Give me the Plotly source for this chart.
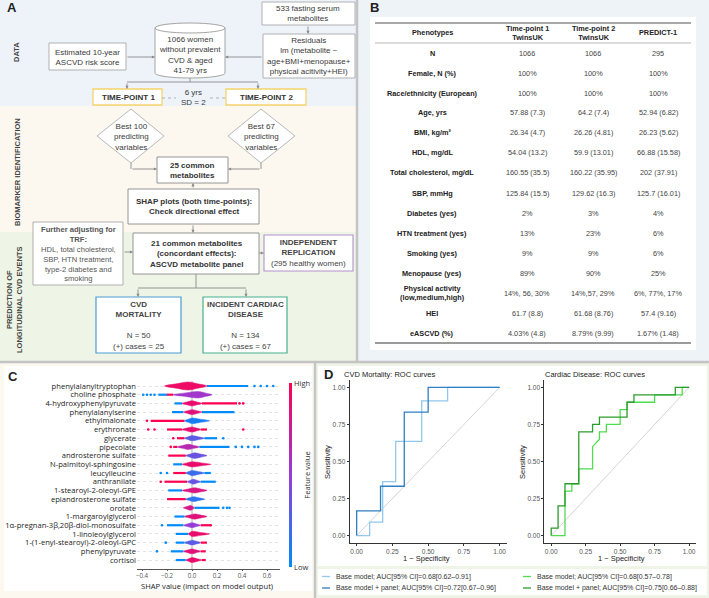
import plotly.graph_objects as go

W, H = 709, 598
FA = "Liberation Sans, Arial, sans-serif"
FS = "Open Sans, sans-serif"

# ---------------- DATA ----------------
# Panel B table
tbl_header = ["Phenotypes", "Time-point 1<br>TwinsUK", "Time-point 2<br>TwinsUK", "PREDICT-1"]
phenotypes = ["N", "Female, N (%)", "Race/ethnicity (European)", "Age, yrs", "BMI, kg/m²",
              "HDL, mg/dL", "Total cholesterol, mg/dL", "SBP, mmHg", "Diabetes (yes)",
              "HTN treatment (yes)", "Smoking (yes)", "Menopause (yes)",
              "Physical activity<br>(low,medium,high)", "HEI", "eASCVD (%)"]
tp1_vals = ["1066", "100%", "100%", "57.88 (7.3)", "26.34 (4.7)", "54.04 (13.2)", "160.55 (35.5)",
            "125.84 (15.5)", "2%", "13%", "9%", "89%", "14%, 56, 30%", "61.7 (8.8)", "4.03% (4.8)"]
tp2_vals = ["1066", "100%", "100%", "64.2 (7.4)", "26.26 (4.81)", "59.9 (13.01)", "160.22 (35.95)",
            "129.62 (16.3)", "3%", "23%", "9%", "90%", "14%,57, 29%", "61.68 (8.76)", "8.79% (9.99)"]
predict_vals = ["295", "100%", "100%", "52.94 (6.82)", "26.23 (5.62)", "66.88 (15.58)", "202 (37.91)",
                "125.7 (16.01)", "4%", "6%", "6%", "25%", "6%, 77%, 17%", "57.4 (9.16)", "1.67% (1.48)"]

# Panel C SHAP summary
features = ["phenylalanyltryptophan", "choline phosphate", "4-hydroxyphenylpyruvate", "phenylalanylserine",
            "ethylmalonate", "erythronate", "glycerate", "pipecolate", "androsterone sulfate",
            "N-palmitoyl-sphingosine", "leucylleucine", "anthranilate", "1-stearoyl-2-oleoyl-GPE",
            "epiandrosterone sulfate", "orotate", "1-margaroylglycerol",
            "1α-pregnan-3β,20β-diol-monosulfate", "1-linoleoylglycerol",
            "1-(1-enyl-stearoyl)-2-oleoyl-GPC", "phenylpyruvate", "cortisol"]
core_lo = [-0.22, -0.15, -0.08, -0.07, -0.06, -0.08, -0.06, -0.12, -0.05, -0.08, -0.05,
           -0.04, -0.08, -0.05, -0.07, -0.06, -0.07, -0.03, -0.06, -0.07, -0.05]
core_peak = [-0.03, 0.05, 0.0, 0.0, 0.0, 0.0, 0.0, -0.03, 0.02, 0.0, 0.0,
             0.01, 0.02, 0.01, -0.01, 0.02, 0.0, 0.0, 0.0, 0.0, 0.0]
core_hi = [0.12, 0.16, 0.08, 0.08, 0.14, 0.07, 0.10, 0.06, 0.12, 0.15, 0.10,
           0.07, 0.12, 0.10, 0.02, 0.12, 0.07, 0.14, 0.07, 0.07, 0.08]
core_spread = [0.46, 0.38, 0.30, 0.28, 0.32, 0.30, 0.30, 0.30, 0.32, 0.30, 0.30,
               0.28, 0.30, 0.28, 0.28, 0.30, 0.28, 0.30, 0.28, 0.28, 0.28]
core_feature_value = [0.92, 0.55, 0.9, 0.85, 0.08, 0.88, 0.3, 0.65, 0.35, 0.9, 0.2,
                      0.35, 0.82, 0.15, 0.8, 0.85, 0.5, 0.9, 0.3, 0.85, 0.9]
run_row = [0, 1, 1, 2, 2, 3, 3, 4, 5, 5, 6, 6, 7, 7, 8, 9, 10, 10, 11, 11, 12, 13, 14, 15,
           16, 16, 17, 18, 18, 19, 19, 20, 20]
run_lo = [0.12, -0.27, -0.2, -0.14, 0.08, -0.16, 0.08, -0.33, -0.2, 0.07, -0.12, 0.10, -0.15, 0.06,
          -0.19, -0.15, -0.15, 0.10, -0.22, 0.07, -0.19, -0.2, 0.02, -0.14,
          -0.2, 0.07, -0.13, -0.13, 0.07, -0.17, 0.07, -0.13, 0.08]
run_hi = [0.45, -0.2, -0.15, -0.08, 0.36, -0.07, 0.34, -0.06, -0.08, 0.12, -0.06, 0.20, -0.12, 0.30,
          -0.05, -0.08, -0.05, 0.15, -0.04, 0.19, -0.08, -0.05, 0.22, -0.06,
          -0.07, 0.15, -0.03, -0.06, 0.12, -0.07, 0.11, -0.05, 0.11]
run_fv = [0, 0, 1, 0, 1, 0, 0, 1, 1, 1, 1, 0, 1, 0, 1, 0, 1, 0, 1, 0, 0, 1, 0, 0,
          0, 1, 0, 0, 1, 0, 1, 0, 1]
dot_row = [0, 0, 0, 0, 1, 1, 1, 1, 2, 2, 4, 5, 5, 5, 6, 6, 7, 7, 7, 7, 7, 7, 10, 10, 11,
           14, 14, 14, 16, 16, 18, 19]
dot_x = [0.50, 0.55, 0.60, 0.65, -0.39, -0.36, -0.33, -0.30, 0.38, 0.41, -0.36, -0.35, -0.30, 0.41,
         -0.15, 0.25, -0.17, 0.35, 0.40, 0.45, 0.50, 0.53, -0.25, -0.20, -0.25,
         0.25, 0.28, 0.30, -0.24, 0.15, -0.21, -0.28]
dot_fv = [0, 0, 0, 0, 0, 0, 0, 0, 1, 1, 1, 1, 1, 1, 1, 0, 1, 0, 0, 0, 0, 0, 0, 0, 1,
          0, 0, 0, 0, 1, 0, 0]
shap_ticks = [-0.4, -0.2, 0.0, 0.2, 0.4, 0.6]

# Panel D ROC curves
cvd_base_fpr = [0, 0.091, 0.091, 0.182, 0.182, 0.273, 0.273, 0.455, 0.455, 0.636, 0.636, 1]
cvd_base_tpr = [0, 0, 0.091, 0.091, 0.364, 0.364, 0.636, 0.636, 0.909, 0.909, 1, 1]
cvd_panel_fpr = [0, 0, 0.167, 0.167, 0.333, 0.333, 0.5, 0.5, 1]
cvd_panel_tpr = [0, 0.167, 0.167, 0.333, 0.333, 0.833, 0.833, 1, 1]
card_base_fpr = [0, 0.1, 0.1, 0.15, 0.15, 0.2, 0.2, 0.3, 0.3, 0.35, 0.35, 0.4, 0.4, 0.5, 0.5,
                 0.55, 0.55, 0.75, 0.75, 0.95, 0.95, 1]
card_base_tpr = [0, 0, 0.3, 0.3, 0.35, 0.35, 0.45, 0.45, 0.6, 0.65, 0.7, 0.7, 0.75, 0.75, 0.85,
                 0.85, 0.9, 0.9, 0.95, 0.95, 1, 1]
card_panel_fpr = [0, 0, 0.05, 0.05, 0.1, 0.1, 0.2, 0.2, 0.3, 0.3, 0.35, 0.35, 0.55, 0.55, 0.6,
                  0.6, 0.9, 0.9, 1]
card_panel_tpr = [0, 0.05, 0.05, 0.2, 0.2, 0.35, 0.35, 0.7, 0.7, 0.75, 0.75, 0.8, 0.8, 0.9, 0.9,
                  0.95, 0.95, 1, 1]
roc_ticks = [0, 0.25, 0.5, 0.75, 1.0]
cvd_legend = ["Base model; AUC[95% CI]=0.68[0.62–0.91]", "Base model + panel; AUC[95% CI]=0.72[0.67–0.96]"]
card_legend = ["Base model; AUC[95% CI]=0.68[0.57–0.78]", "Base model + panel; AUC[95% CI]=0.75[0.66–0.88]"]

# ---------------- HELPERS ----------------
def X(p):
    return p / W


def Y(p):
    return 1 - p / H


shapes = []
ann = []


def rect(x0, y0, x1, y1, fill=None, line=None, lw=1.0, layer="above"):
    shapes.append(dict(type="rect", xref="paper", yref="paper", x0=X(x0), x1=X(x1), y0=Y(y1), y1=Y(y0),
                       layer=layer, fillcolor=fill if fill else "rgba(0,0,0,0)",
                       line=dict(color=line if line else "rgba(0,0,0,0)", width=lw if line else 0)))


def seg(x0, y0, x1, y1, color="#8a8a8a", lw=0.9, dash="solid"):
    shapes.append(dict(type="line", xref="paper", yref="paper", x0=X(x0), x1=X(x1), y0=Y(y0), y1=Y(y1),
                       line=dict(color=color, width=lw, dash=dash)))


def arrow(x0, y0, x1, y1, color="#8a8a8a"):
    ann.append(dict(x=X(x1), y=Y(y1), xref="paper", yref="paper", ax=x0 - x1, ay=y0 - y1,
                    axref="pixel", ayref="pixel", text="", showarrow=True, arrowhead=2,
                    arrowsize=0.7, arrowwidth=0.9, arrowcolor=color))


def T(x, y, text, size=8, color="#3a3a3a", xa="center", ya="middle", angle=0, family=FA):
    ann.append(dict(x=X(x), y=Y(y), xref="paper", yref="paper", text=text, showarrow=False,
                    font=dict(size=size, color=color, family=family), xanchor=xa, yanchor=ya,
                    textangle=angle, align=xa if xa in ("left", "right") else "center",
                    borderpad=0))


def path(points, fill="white", line="#9a9a9a", lw=0.9):
    d = "M " + " L ".join(f"{X(a):.5f},{Y(b):.5f}" for a, b in points) + " Z"
    shapes.append(dict(type="path", xref="paper", yref="paper", path=d, fillcolor=fill,
                       line=dict(color=line, width=lw)))


STOPS = [(0.0, (0, 139, 251)), (0.5, (150, 60, 215)), (1.0, (255, 0, 82))]


def fv_color(v):
    for (a, ca), (b, cb) in zip(STOPS[:-1], STOPS[1:]):
        if v <= b:
            t = (v - a) / (b - a)
            c = [round(ca[i] + (cb[i] - ca[i]) * t) for i in range(3)]
            return f"rgb({c[0]},{c[1]},{c[2]})"
    return "rgb(255,0,82)"

# ---------------- BACKGROUNDS ----------------
rect(0, 0, 357, 106, fill="#edf3f9", layer="below")
rect(0, 106, 357, 232, fill="#fdf8ef", layer="below")
rect(0, 232, 357, 362, fill="#eef5e6", layer="below")
rect(357, 0, 709, 362, fill="#eef3f8", layer="below")
rect(370, 17, 696, 350, fill="white", layer="below")
rect(0, 362, 315, 598, fill="#fdf8ef", layer="below")
rect(4, 366, 312, 591, fill="white", layer="below")
rect(315, 362, 709, 598, fill="#eef5e6", layer="below")
rect(318, 366, 707, 566, fill="white", layer="below")
rect(318, 569, 707, 595, fill="white", layer="below")
seg(357, 0, 357, 362, color="#c4c4c4", lw=2.5)
seg(0, 362, 709, 362, color="#c4c4c4", lw=2.5)
seg(315, 362, 315, 598, color="#c4c4c4", lw=2.5)

# ---------------- PANEL A ----------------
T(12, 8, "<b>A</b>", size=13, color="#222")
T(17, 52, "<b>DATA</b>", size=7.5, color="#444", angle=-90)
T(17, 172, "<b>BIOMARKER IDENTIFICATION</b>", size=7.5, color="#444", angle=-90)
T(14, 300, "<b>PREDICTION OF<br>LONGITUDINAL CVD EVENTS</b>", size=7.5, color="#444", angle=-90)

rect(262, 2, 355, 25, fill="white", line="#a8a8a8", lw=0.9)
T(308, 13.5, "533 fasting serum<br>metabolites")
rect(263, 34, 355, 78, fill="white", line="#a8a8a8", lw=0.9)
T(309, 56, "Residuals<br>lm (metabolite ~<br>age+BMI+menopause+<br>physical acitivity+HEI)")
rect(49, 43, 126, 70, fill="white", line="#a8a8a8", lw=0.9)
T(87.5, 57, "Estimated 10-year<br>ASCVD risk score")

# cylinder
cl, cr, ctop, cbot, ry = 155, 225, 28, 73, 5
k = 0.5523
cx, rx = (cl + cr) / 2, (cr - cl) / 2
body = (f"M {X(cl):.5f},{Y(ctop):.5f} L {X(cl):.5f},{Y(cbot):.5f} "
        f"C {X(cl):.5f},{Y(cbot + k * ry):.5f} {X(cx - k * rx):.5f},{Y(cbot + ry):.5f} {X(cx):.5f},{Y(cbot + ry):.5f} "
        f"C {X(cx + k * rx):.5f},{Y(cbot + ry):.5f} {X(cr):.5f},{Y(cbot + k * ry):.5f} {X(cr):.5f},{Y(cbot):.5f} "
        f"L {X(cr):.5f},{Y(ctop):.5f} Z")
shapes.append(dict(type="path", xref="paper", yref="paper", path=body, fillcolor="white",
                   line=dict(color="#9a9a9a", width=0.9)))
shapes.append(dict(type="circle", xref="paper", yref="paper", x0=X(cl), x1=X(cr), y0=Y(ctop + ry),
                   y1=Y(ctop - ry), fillcolor="white", line=dict(color="#9a9a9a", width=0.9)))
T(190, 55, "1066 women<br>without prevalent<br>CVD & aged<br>41-79 yrs")

arrow(308, 25, 308, 34)
arrow(126, 57, 155, 57)
arrow(263, 57, 225, 57)
seg(190, 78, 190, 82)
seg(127, 82, 258, 82)
arrow(127, 82, 127, 89)
arrow(258, 82, 258, 89)

rect(93, 89, 162, 105, fill="white", line="#f3d46a", lw=1.3)
T(128, 97.5, "<b>TIME-POINT 1</b>", color="#333")
rect(226, 89, 306, 105, fill="white", line="#f3d46a", lw=1.3)
T(266, 97.5, "<b>TIME-POINT 2</b>", color="#333")
T(193, 97, "6 yrs<br>SD = 2")
seg(162, 98, 176, 98, color="#aaaaaa", dash="dot")
seg(210, 98, 226, 98, color="#aaaaaa", dash="dot")

path([(131, 109), (164, 136), (131, 163), (97, 136)], line="#b0b0b0")
T(131, 137, "Best 100<br>predicting<br>variables")
path([(261, 109), (295, 136), (261, 163), (228, 136)], line="#b0b0b0")
T(261, 137, "Best 67<br>predicting<br>variables")
seg(131, 163, 131, 169)
arrow(131, 169, 157, 169)
seg(261, 163, 261, 169)
arrow(261, 169, 228, 169)

rect(157, 157, 228, 183, fill="white", line="#8a8a8a", lw=0.9)
T(192.5, 170, "<b>25 common<br>metabolites</b>", color="#333")
arrow(193, 189, 193, 183)
rect(128, 189, 259, 224, fill="white", line="#8a8a8a", lw=0.9)
T(193.5, 206.5, "<b>SHAP plots (both time-points):<br>Check directional effect</b>", color="#333")
arrow(193, 224, 193, 233)

rect(33, 222, 123, 285, fill="white", line="#a8a8a8", lw=0.9)
T(78, 253.5, "<b>Further adjusting for<br>TRF:</b><br>HDL, total cholesterol,<br>SBP, HTN treatment,<br>"
             "type-2 diabetes and<br>smoking", color="#555", size=7.6)
arrow(123, 252, 133, 252)

rect(133, 233, 259, 274, fill="white", line="#8a8a8a", lw=0.9)
T(196, 253.5, "<b>21 common metabolites<br>(concordant effects):<br>ASCVD metabolite panel</b>", color="#333")

seg(259, 253, 262, 253, color="#8a8a8a", dash="dot")
arrow(261, 253, 264, 253)
rect(264, 235, 353, 271, fill="white", line="#b68fcb", lw=1.1)
T(308.5, 253, "<b>INDEPENDENT<br>REPLICATION</b><br>(295 healthy women)", color="#444")

seg(196, 274, 196, 288)
seg(138, 288, 246, 288)
arrow(138, 288, 138, 297)
arrow(246, 288, 246, 297)
rect(96, 297, 181, 353, fill="white", line="#4b9bd6", lw=1.2)
T(138.5, 325.5, "<b>CVD<br>MORTALITY</b><br><br>N = 50<br>(+) cases = 25", color="#444")
rect(203, 297, 287, 353, fill="white", line="#47b08f", lw=1.2)
T(245, 325.5, "<b>INCIDENT CARDIAC<br>DISEASE</b><br><br>N = 134<br>(+) cases = 67", color="#444")

# ---------------- PANEL B ----------------
T(375, 8, "<b>B</b>", size=13, color="#222")
seg(375, 23, 691, 23, color="#8c8c8c", lw=1.5)
seg(375, 43, 691, 43, color="#dcdcdc", lw=2)
seg(375, 343, 691, 343, color="#7a7a7a", lw=1.3)
col_x = [432, 527, 593, 658]
for cxp, h in zip(col_x, tbl_header):
    T(cxp, 33, f"<b>{h}</b>", size=7.3, color="#222")
columns = [tp1_vals, tp2_vals, predict_vals]
for i, ph in enumerate(phenotypes):
    yy = 53 + 20 * i
    T(col_x[0], yy, f"<b>{ph}</b>", size=7.3, color="#222")
    for j, col in enumerate(columns):
        T(col_x[j + 1], yy, col[i], size=7.3, color="#444")

# ---------------- PANEL C ----------------
T(13, 376, "<b>C</b>", size=13, color="#222")
traces = []
nrow = len(features)
for i in range(nrow):
    lo, pk, hi, sp = core_lo[i], core_peak[i], core_hi[i], core_spread[i]
    xs = [lo, (lo + pk) / 2, pk, (pk + hi) / 2, hi, (pk + hi) / 2, pk, (lo + pk) / 2, lo]
    ys = [i, i - sp * 0.55, i - sp, i - sp * 0.55, i, i + sp * 0.55, i + sp, i + sp * 0.55, i]
    traces.append(go.Scatter(x=xs, y=ys, mode="lines", line=dict(width=0.5, color=fv_color(core_feature_value[i]), shape="spline"),
                             fill="toself", fillcolor=fv_color(core_feature_value[i]), hoverinfo="skip",
                             showlegend=False, xaxis="x", yaxis="y"))
for fv in (0, 1):
    xs, ys = [], []
    for r, a, b, f in zip(run_row, run_lo, run_hi, run_fv):
        if f == fv:
            xs += [a, b, None]
            ys += [r, r, None]
    traces.append(go.Scatter(x=xs, y=ys, mode="lines", line=dict(width=2.2, color=fv_color(fv)),
                             hoverinfo="skip", showlegend=False, xaxis="x", yaxis="y"))
traces.append(go.Scatter(
    x=dot_x, y=dot_row, mode="markers", xaxis="x", yaxis="y", showlegend=False, hoverinfo="skip",
    marker=dict(size=2.6, color=dot_fv, cmin=0, cmax=1,
                colorscale=[[s, fv_color(s)] for s in (0, 0.25, 0.5, 0.75, 1)],
                showscale=True,
                colorbar=dict(x=X(289), xanchor="left", y=Y(475), yanchor="middle", lenmode="pixels",
                              len=184, thickness=2.5, outlinewidth=0, xpad=0, ypad=0,
                              tickvals=[0, 1], ticktext=["Low", "High"], ticks="",
                              tickfont=dict(size=7.5, family=FS, color="#333"),
                              title=dict(text="Feature value", side="right",
                                         font=dict(size=7.5, family=FS, color="#333"))))))
shapes.append(dict(type="line", xref="x", yref="paper", x0=0, x1=0, y0=Y(569), y1=Y(381),
                   line=dict(color="#9a9a9a", width=0.8), layer="below"))
T(207, 585.5, "SHAP value (impact on model output)", size=7.6, color="#222", family=FS)

# ---------------- PANEL D ----------------
T(328, 374, "<b>D</b>", size=13, color="#222")
T(343, 374, "CVD Mortality: ROC curves", size=7.5, color="#222", xa="left")
T(544, 374, "Cardiac Disease: ROC curves", size=7.5, color="#222", xa="left")
for xa_, ya_ in (("x2", "y2"), ("x3", "y3")):
    traces.append(go.Scatter(x=[0, 1], y=[0, 1], mode="lines", line=dict(color="#c9c9c9", width=0.8),
                             hoverinfo="skip", showlegend=False, xaxis=xa_, yaxis=ya_))
curves = [(cvd_base_fpr, cvd_base_tpr, "#93c8ee", "x2", "y2"),
          (cvd_panel_fpr, cvd_panel_tpr, "#2f7fc1", "x2", "y2"),
          (card_base_fpr, card_base_tpr, "#4fdc4f", "x3", "y3"),
          (card_panel_fpr, card_panel_tpr, "#2c9c2c", "x3", "y3")]
for fx, ty, col, xa_, ya_ in curves:
    traces.append(go.Scatter(x=fx, y=ty, mode="lines", line=dict(color=col, width=1.3),
                             hoverinfo="skip", showlegend=False, xaxis=xa_, yaxis=ya_))
T(427, 558, "1 − Specificity", size=7.5, color="#222")
T(621, 558, "1 − Specificity", size=7.5, color="#222")
T(327, 462, "Sensitivity", size=7.5, color="#222", angle=-90)
T(522, 462, "Sensitivity", size=7.5, color="#222", angle=-90)
for (sx, tx, labels, cols) in ((322, 335, cvd_legend, ("#93c8ee", "#2f7fc1")),
                               (523, 536, card_legend, ("#4fdc4f", "#2c9c2c"))):
    for k_, (lab, col) in enumerate(zip(labels, cols)):
        yy = 576.5 + 11.5 * k_
        seg(sx, yy, sx + 8, yy, color=col, lw=1.3)
        T(tx, yy, lab, size=7, color="#333", xa="left")

# ---------------- LAYOUT ----------------
roc_axis = dict(range=[-0.05, 1.05], showline=True, linecolor="#333", linewidth=0.9, ticks="outside",
                ticklen=2, tickcolor="#333", tickvals=roc_ticks, ticktext=["0.00", "0.25", "0.50", "0.75", "1.00"],
                tickfont=dict(size=6.5, color="#555", family=FA), showgrid=False, zeroline=False, fixedrange=True)
fig = go.Figure(data=traces)
fig.update_layout(
    width=W, height=H, margin=dict(l=0, r=0, t=0, b=0), paper_bgcolor="white", plot_bgcolor="rgba(0,0,0,0)",
    font=dict(family=FA), showlegend=False,
    xaxis=dict(domain=[X(137), X(280)], range=[-0.44, 0.704], showline=True, linecolor="#555", linewidth=0.8,
               ticks="outside", ticklen=1, tickcolor="#555", tickvals=shap_ticks,
               ticktext=["−0.4", "−0.2", "0.0", "0.2", "0.4", "0.6"],
               tickfont=dict(size=6.2, color="#555", family=FS), showgrid=False, zeroline=False, anchor="y"),
    yaxis=dict(domain=[Y(569), Y(380)], range=[21.03, -0.69], tickvals=list(range(nrow)), ticktext=features,
               tickfont=dict(size=7.6, color="#222", family=FS), showgrid=True, gridcolor="#e3e3e3",
               griddash="dot", gridwidth=0.6, zeroline=False, showline=False, ticks="", anchor="x"),
    xaxis2=dict(domain=[X(349.5), X(506.8)], anchor="y2", **roc_axis),
    yaxis2=dict(domain=[Y(543), Y(380)], anchor="x2", **roc_axis),
    xaxis3=dict(domain=[X(544.3), X(696)], anchor="y3", **roc_axis),
    yaxis3=dict(domain=[Y(543), Y(380)], anchor="x3", **roc_axis),
    shapes=shapes, annotations=ann,
)
fig.write_html("out.html", config={"displayModeBar": False},
               post_script="document.body.style.margin='0';document.body.style.padding='0';")
